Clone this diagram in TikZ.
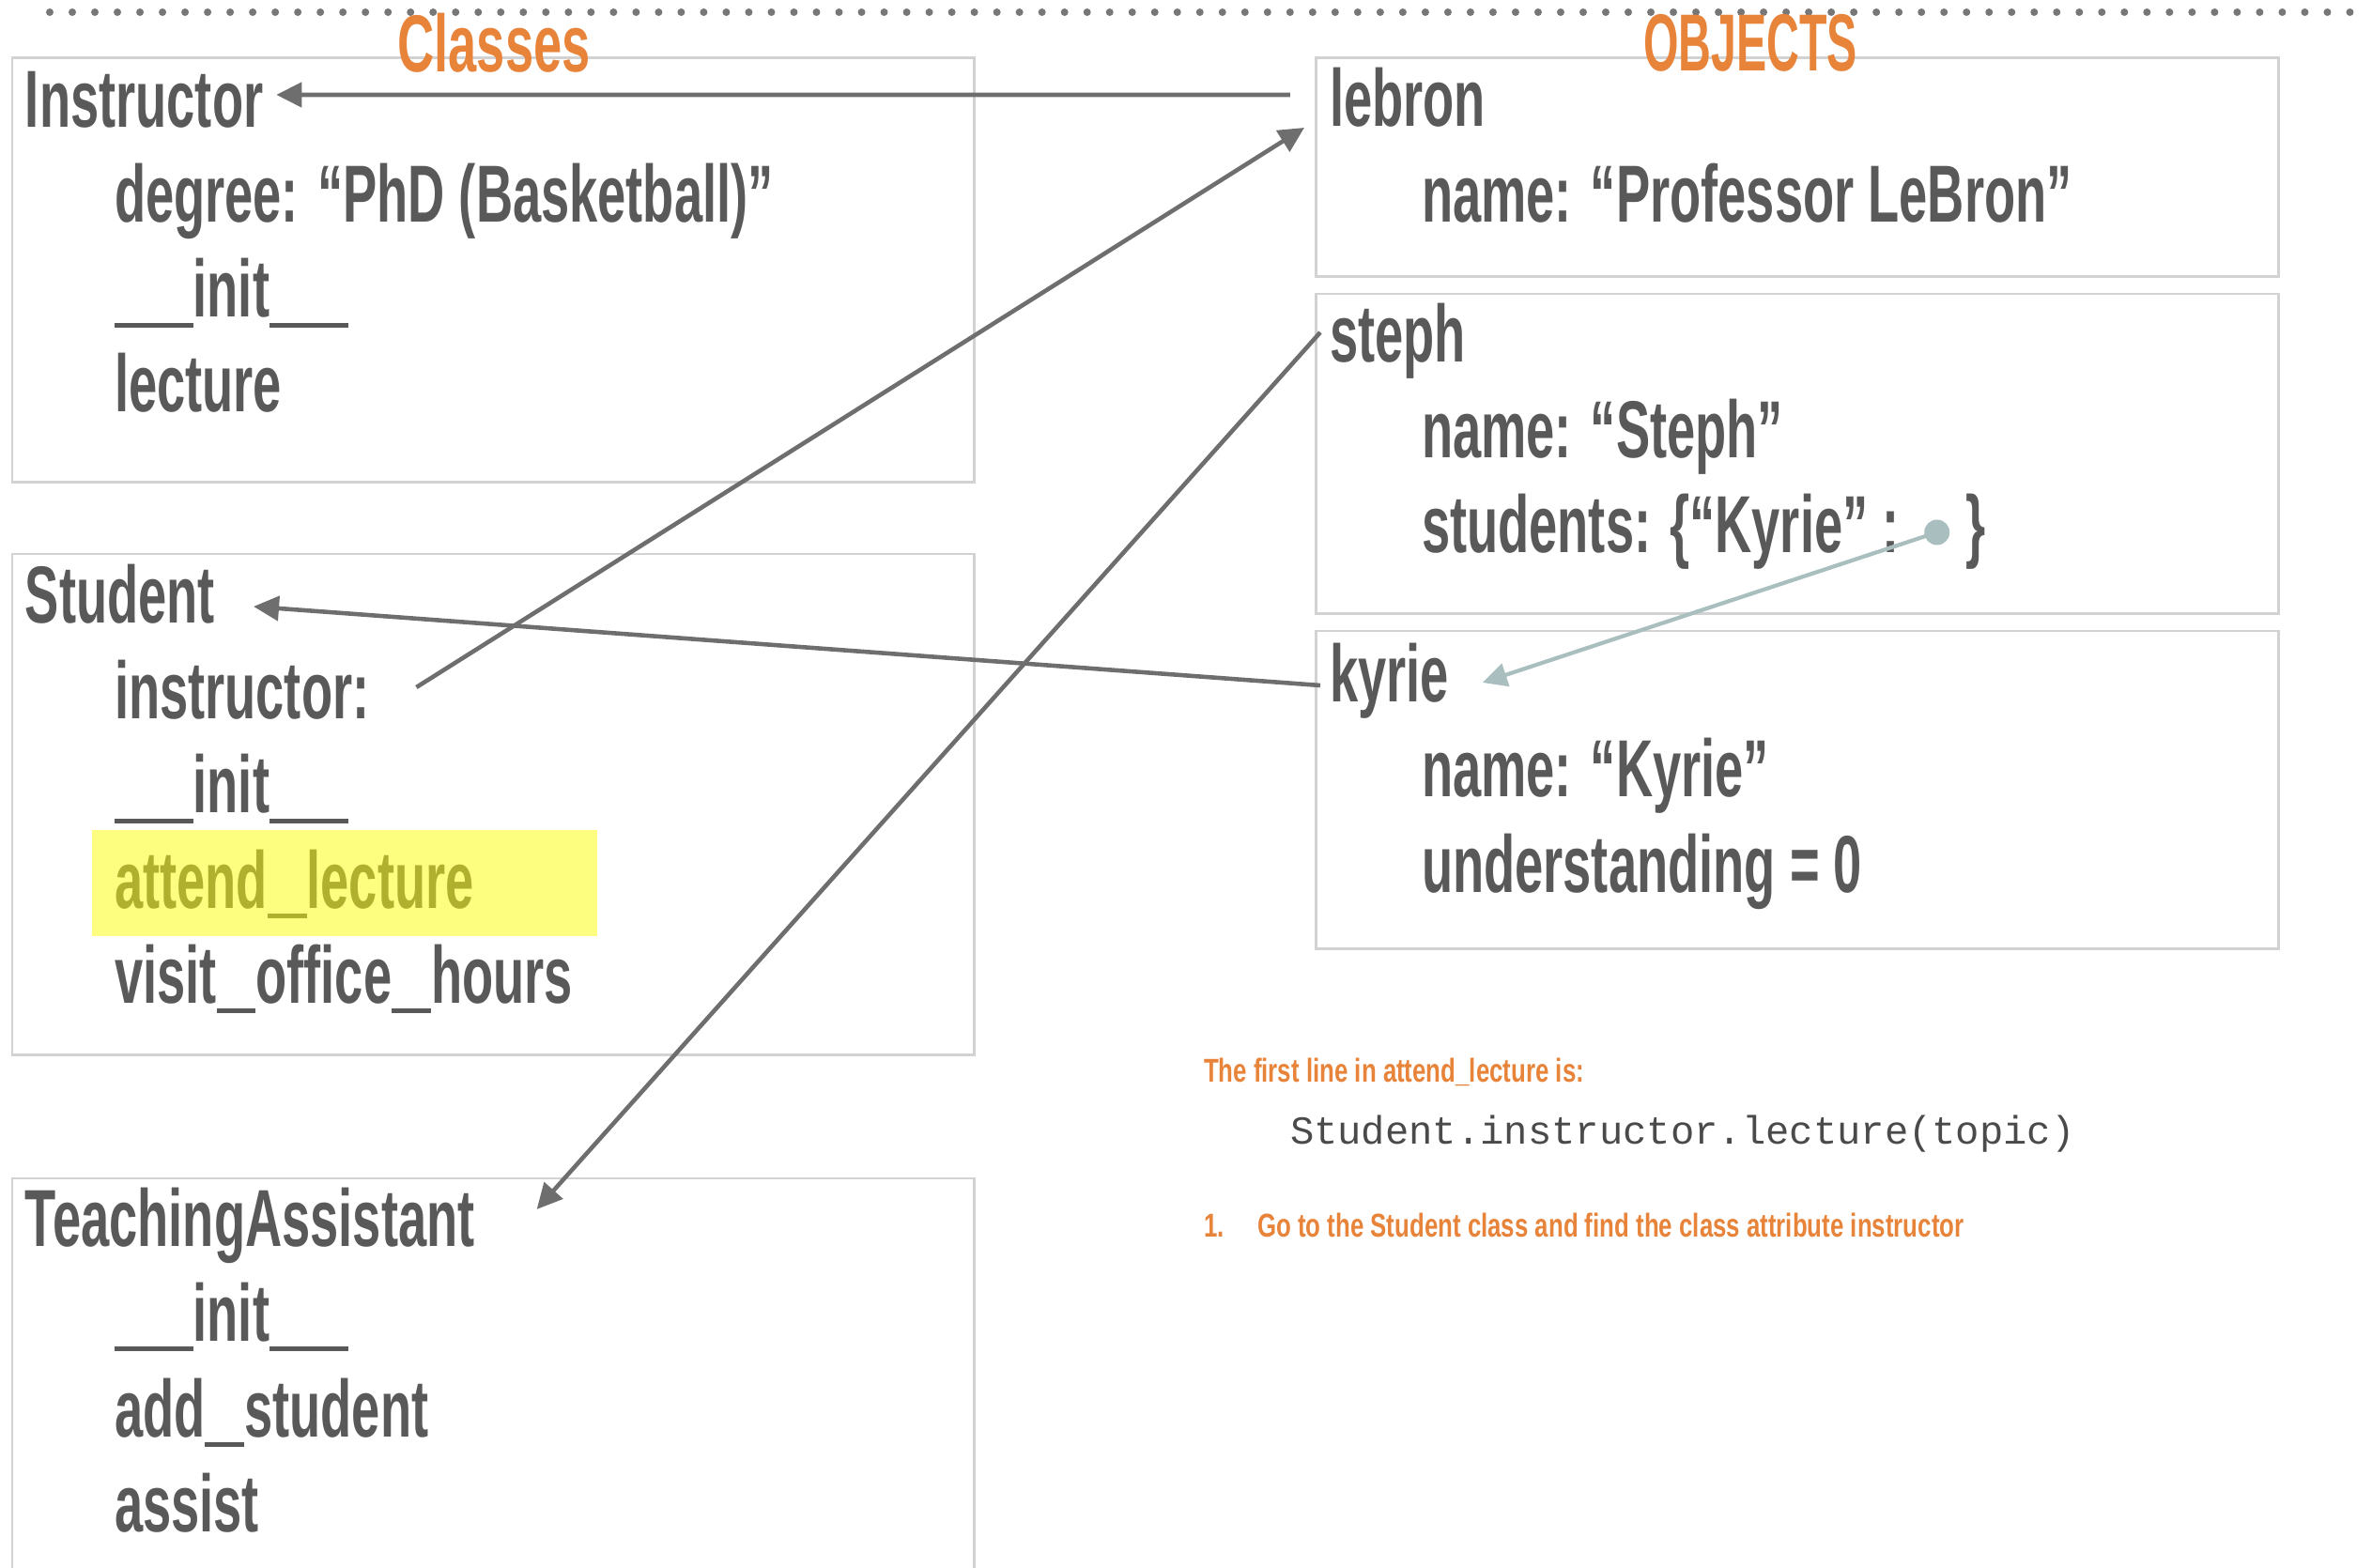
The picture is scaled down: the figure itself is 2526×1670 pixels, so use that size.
\documentclass[tikz,border=0pt]{standalone}
\usepackage{fontspec}
\usetikzlibrary{arrows.meta,calc}
\newfontfamily\mainf{Liberation Sans}[FakeStretch=0.63]
\newfontfamily\capsf{Liberation Sans}[FakeStretch=0.56]
\newfontfamily\smallf{Liberation Sans}[FakeStretch=0.735]
\setmonofont{Liberation Mono}
\newcommand\us{\rule[-3.1pt]{11.9pt}{1.4pt}}
\definecolor{txtgray}{HTML}{595959}
\definecolor{boxgray}{HTML}{D2D2D2}
\definecolor{linegray}{HTML}{6E6E6E}
\definecolor{dotgray}{HTML}{777777}
\definecolor{hdrorange}{HTML}{E8833A}
\definecolor{hlyellow}{HTML}{FDFD80}
\definecolor{olive}{HTML}{B0B02E}
\definecolor{keyteal}{HTML}{A9BEBE}
\definecolor{codegray}{HTML}{4A4A4A}
\begin{document}
\begin{tikzpicture}[x=0.01cm,y=-0.01cm,
  txt/.style={inner sep=0pt, outer sep=0pt, anchor=base west, text=txtgray,
    font=\mainf\bfseries\fontsize{24.5}{29}\selectfont},
  hdr/.style={inner sep=0pt, outer sep=0pt, anchor=base, text=hdrorange,
    font=\mainf\bfseries\fontsize{24.5}{29}\selectfont},
  note/.style={inner sep=0pt, outer sep=0pt, anchor=base west, text=hdrorange,
    font=\smallf\bfseries\fontsize{10}{12}\selectfont},
  code/.style={inner sep=0pt, outer sep=0pt, anchor=base west, text=codegray,
    font=\ttfamily\fontsize{12}{14}\selectfont},
  objbox/.style={draw=boxgray, line width=0.85pt, inner sep=0pt, outer sep=0pt,
    anchor=north west, rectangle},
  conn/.style={color=linegray, line width=1.3pt, -{Triangle[length=0.27cm,width=0.26cm]}},
  keyconn/.style={color=keyteal, line width=1.2pt, -{Triangle[length=0.26cm,width=0.25cm]}},
  keydot/.style={circle, fill=keyteal, inner sep=0pt, minimum size=0.27cm}
]
\useasboundingbox (0,0) rectangle (2526,1670);

% dotted top rule
\draw[dotgray, line width=0.08cm, line cap=round, dash pattern=on 0pt off 0.24cm] (53,13) -- (2526,13);

% highlight behind attend_lecture
\node[fill=hlyellow, anchor=north west, inner sep=0pt, minimum width=5.38cm, minimum height=1.13cm] (hl) at (97,883) {};

% class boxes
\node[objbox, minimum width=10.24cm, minimum height=4.51cm] (boxI) at (13,62) {};
\node[objbox, minimum width=10.24cm, minimum height=5.33cm] (boxS) at (13,590) {};
\draw[boxgray, line width=0.85pt] (13,1680) |- (1037,1255) -- (1037,1680);

% object boxes
\node[objbox, minimum width=10.25cm, minimum height=2.32cm] (boxL) at (1401,62) {};
\node[objbox, minimum width=10.25cm, minimum height=3.40cm] (boxSt) at (1401,313) {};
\node[objbox, minimum width=10.25cm, minimum height=3.38cm] (boxK) at (1401,672) {};

% headers
\node[hdr] (classes) at (526,77) {Classes};
\node[hdr, font=\capsf\bfseries\fontsize{24.5}{29}\selectfont] (objects) at (1864,76) {OBJECTS};

% Instructor class
\node[txt] (instrT) at (27,136) {Instructor};
\node[txt] (degree) at (122,237) {degree: “PhD (Basketball)”};
\node[txt] (initA) at (122,338) {\us\us init\us\us};
\node[txt] (lecture) at (122,439) {lecture};

% Student class
\node[txt] (studT) at (27,664) {Student};
\node[txt] (instrAttr) at (122,765) {instructor:};
\node[txt] (initB) at (122,866) {\us\us init\us\us};
\node[txt, text=olive] (attend) at (122,967) {attend\us lecture};
\node[txt] (visit) at (122,1068) {visit\us office\us hours};

% TeachingAssistant class
\node[txt] (taT) at (27,1327) {TeachingAssistant};
\node[txt] (initC) at (122,1428) {\us\us init\us\us};
\node[txt] (addst) at (122,1530) {add\us student};
\node[txt] (assist) at (122,1631) {assist};

% lebron object
\node[txt] (lebT) at (1416,135) {lebron};
\node[txt] (lebName) at (1514,237) {name: “Professor LeBron”};

% steph object
\node[txt] (stephT) at (1416,386) {steph};
\node[txt] (stephName) at (1514,488) {name: “Steph”};
\node[txt] (stephStud) at (1514,589) {students: \{“Kyrie” :};
\node[keydot] (dot) at ([shift={(0.40cm,0.22cm)}]stephStud.base east) {};
\node[txt] (brace) at ([xshift=0.71cm]stephStud.base east) {\}};

% kyrie object
\node[txt] (kyrT) at (1416,748) {kyrie};
\node[txt] (kyrName) at (1514,849) {name: “Kyrie”};
\node[txt] (kyrUnd) at (1514,950) {understanding = 0};

% notes
\node[note] (note1) at (1282,1152) {The first line in attend\_lecture is:};
\node[code] (codeline) at (1374,1218) {Student.instructor.lecture(topic)};
\node[note] (num1) at (1282,1317) {1.};
\node[note] (step1) at (1339,1317) {Go to the Student class and find the class attribute instructor};

% connectors
\draw[conn] ([shift={(-0.42cm,0.34cm)}]lebT.base west) -- ([shift={(0.14cm,0.35cm)}]instrT.base east);
\draw[conn] ([shift={(0.50cm,0.33cm)}]instrAttr.base east) -- ([shift={(-0.27cm,-0.01cm)}]lebT.base west);
\draw[conn] ([shift={(-0.10cm,0.32cm)}]stephT.base west) -- ([shift={(0.66cm,0.39cm)}]taT.base east);
\draw[conn] ([shift={(-0.10cm,0.18cm)}]kyrT.base west) -- ([shift={(0.41cm,0.18cm)}]studT.base east);
\draw[keyconn] (dot.center) -- ([shift={(0.36cm,0.21cm)}]kyrT.base east);
\end{tikzpicture}
\end{document}
